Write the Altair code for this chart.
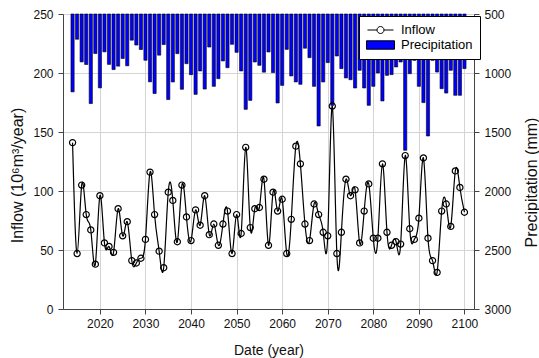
import altair as alt
import pandas as pd

years = list(range(2014, 2101))
inflow = [141, 47, 105, 80, 67, 38, 96, 56, 53, 48,
          85, 62, 74, 41, 39, 43, 59, 116, 80, 49,
          35, 99, 92, 57, 105, 78, 58, 84, 71, 96,
          63, 72, 54, 72, 83, 47, 80, 64, 137, 69,
          85, 86, 110, 54, 99, 83, 93, 47, 76, 138,
          123, 72, 58, 89, 80, 65, 62, 172, 47, 65,
          110, 96, 101, 56, 83, 106, 60, 60, 123, 65,
          54, 57, 55, 130, 68, 59, 77, 128, 60, 41,
          31, 83, 89, 70, 117, 103, 82]
precip = [1160, 714, 906, 928, 1259, 835, 1126, 821, 927, 971,
          942, 877, 939, 722, 763, 801, 892, 1075, 1174, 849,
          759, 1225, 1076, 836, 1138, 921, 1014, 1181, 983, 1136,
          780, 1113, 1048, 898, 955, 757, 825, 983, 1308, 1232,
          907, 935, 993, 822, 997, 1254, 1105, 800, 1025, 1076,
          1096, 790, 870, 1113, 1449, 1076, 912, 1274, 856, 963,
          1042, 1057, 1127, 977, 1127, 1274, 1113, 1000, 1237, 1020,
          1014, 949, 907, 1655, 1006, 893, 1113, 1251, 1534, 893,
          992, 1133, 1170, 977, 1189, 1189, 963]
tick_years = [2020, 2030, 2040, 2050, 2060, 2070, 2080, 2090, 2100]
inflow_ticks = [0, 50, 100, 150, 200, 250]
precip_ticks = [500, 1000, 1500, 2000, 2500, 3000]
series_names = ["Inflow", "Precipitation"]

df = pd.DataFrame({"year": years, "inflow": inflow, "precip": precip})
df["series"] = series_names[1]

FONT = "Liberation Sans"

x_enc = alt.X(
    "year:Q",
    scale=alt.Scale(domain=[2013, 2101], nice=False, zero=False),
    axis=alt.Axis(values=tick_years, format="d", title="Date (year)", grid=True,
                  tickSize=5, labelPadding=4, titleY=41, titleBaseline="middle",
                  titleFontSize=14),
)

inflow_sym = "M-0.93,0H-0.25M0.25,0H0.93M-0.25,0A0.25,0.25,0,1,0,0.25,0A0.25,0.25,0,1,0,-0.25,0Z"
precip_sym = "M-1,-0.3H1V0.3H-1Z"
sym_expr = "datum.value === 'Inflow' ? '" + inflow_sym + "' : '" + precip_sym + "'"

bars = alt.Chart(df).mark_bar(size=3.2, stroke="black", strokeWidth=0.6).encode(
    x=x_enc,
    y=alt.Y("precip:Q",
            scale=alt.Scale(domain=[500, 3000], reverse=True, nice=False, zero=False),
            axis=alt.Axis(orient="right", values=precip_ticks, format="d", grid=False,
                          tickSize=5, labelPadding=5, title="Precipitation (mm)",
                          titleAngle=270, titleX=57, titleY=168, titleAlign="center",
                          titleBaseline="middle", titleFontSize=16)),
    y2=alt.datum(500),
    fill=alt.Fill("series:N",
                  scale=alt.Scale(domain=series_names, range=["white", "#0000ff"]),
                  legend=alt.Legend(
                      title=None, orient="none", legendX=296, legendY=2,
                      direction="vertical", strokeColor="black",
                      fillColor="white", padding=7, zindex=1,
                      labelFont=FONT, labelFontSize=13, labelColor="black",
                      labelOffset=6, symbolSize=784, symbolStrokeColor="black",
                      symbolStrokeWidth=1, clipHeight=14, rowPadding=1,
                      symbolType=alt.ExprRef(expr=sym_expr),
                  )),
)

line = alt.Chart(df).mark_line(
    color="black", strokeWidth=1.2, interpolate="natural",
    point=alt.OverlayMarkDef(shape="circle", size=38, filled=False,
                             color="black", strokeWidth=1.2),
).encode(
    x=x_enc,
    y=alt.Y("inflow:Q",
            scale=alt.Scale(domain=[0, 250], nice=False),
            axis=alt.Axis(orient="left", values=inflow_ticks, grid=True, tickSize=5,
                          labelPadding=5, title="Inflow (10⁶m³/year)", titleAngle=270,
                          titleX=-46, titleY=161, titleAlign="center",
                          titleBaseline="middle", titleFontSize=16)),
)

chart = alt.layer(bars, line).resolve_scale(y="independent").properties(
    width=411, height=295,
    autosize=alt.AutoSizeParams(type="none"),
    padding={"left": 63, "top": 14, "right": 65, "bottom": 49},
    background="white",
).configure_view(stroke=None).configure_axis(
    labelFont=FONT, titleFont=FONT, labelFontSize=12, labelColor="#111111",
    titleColor="#111111", titleFontWeight="normal",
    domainColor="#444444", tickColor="#444444", gridColor="#d4d4d4",
    gridWidth=1,
)

chart.save("out.html", embed_options={"renderer": "svg", "actions": False})
